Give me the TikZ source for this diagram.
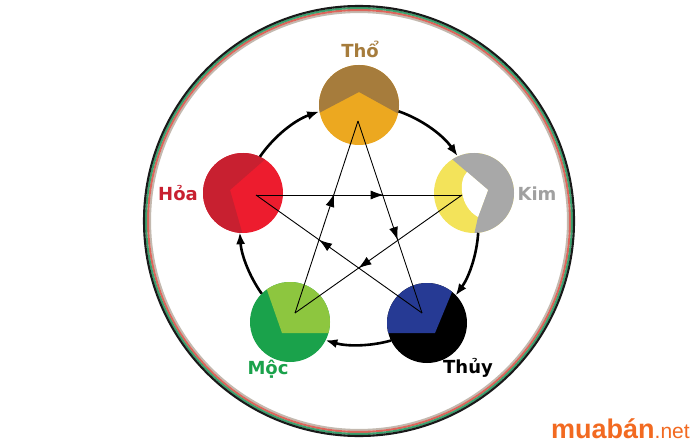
\documentclass[tikz,border=0pt]{standalone}
\usepackage{fontspec}
\setmainfont{DejaVu Sans}
\newfontfamily\wmfont{Liberation Sans}
\usetikzlibrary{arrows.meta,decorations.markings,calc}
\definecolor{thoA}{RGB}{166,124,60}
\definecolor{thoB}{RGB}{236,168,32}
\definecolor{hoaA}{RGB}{200,32,48}
\definecolor{hoaB}{RGB}{237,28,46}
\definecolor{kimY}{RGB}{243,227,90}
\definecolor{kimG}{RGB}{168,168,168}
\definecolor{kimT}{RGB}{160,160,160}
\definecolor{mocL}{RGB}{141,198,63}
\definecolor{mocD}{RGB}{26,162,75}
\definecolor{thuyB}{RGB}{38,58,148}
\definecolor{ringK}{RGB}{25,25,25}
\definecolor{ringG}{RGB}{60,160,110}
\definecolor{ringR}{RGB}{222,100,90}
\definecolor{ringT}{RGB}{195,185,175}
\definecolor{wm}{RGB}{242,106,33}
\begin{document}
\begin{tikzpicture}[x=1pt,y=1pt,
  disc/.style={circle, minimum size=80pt, inner sep=0pt, outer sep=0pt},
  cyc/.style={line width=2.6pt, -{Latex[length=12pt,width=9pt]}},
  star/.style={line width=0.9pt, postaction={decorate},
    decoration={markings, mark=at position 0.62 with {\arrow{Latex[length=13pt,width=9pt]}}}},
  lbl/.style={font=\fontsize{18}{18}\selectfont\bfseries, anchor=base, inner sep=0pt},
  ring/.style={line width=2.1pt}
]
\fill[white] (0,0) rectangle (700,445);
\useasboundingbox (0,0) rectangle (700,445);

% outer rings
\coordinate (rc) at (359,224);
\draw[ring, ringT] (rc) circle (209);
\draw[ring, ringR] (rc) circle (211);
\draw[ring, ringG] (rc) circle (213);
\draw[ring, ringK] (rc) circle (215);

\coordinate (ctr) at (359,220);

% element nodes
\node[disc] (tho) at (359,340) {};
\node[disc] (kim) at (474,252) {};
\node[disc] (thuy) at (427,122) {};
\node[disc] (moc) at (290,123) {};
\node[disc] (hoa) at (243,252) {};

% disc fills
\begin{scope}[shift={(tho.center)}]
  \clip (0,0) circle (40);
  \fill[thoB] (-45,-45) rectangle (45,45);
  \fill[thoA] (-50,-13.3) -- (0,13) -- (50,-14.6) -- (50,50) -- (-50,50) -- cycle;
\end{scope}
\begin{scope}[shift={(hoa.center)}]
  \clip (0,0) circle (40);
  \fill[hoaB] (-45,-45) rectangle (45,45);
  \fill[hoaA] (5,-60) -- (-13,3) -- (51,59) -- (-60,60) -- (-60,-60) -- cycle;
\end{scope}
\begin{scope}[shift={(kim.center)}]
  \clip (0,0) circle (40);
  \fill[kimY] (-45,-45) rectangle (45,45);
  \fill[kimG] (-42,51) -- (-7,21) -- (14,3) -- (4,-24) -- (-4,-60) -- (60,-60) -- (60,60) -- (-42,60) -- cycle;
  \fill[white] (-7,21) -- (14,3) -- (4,-24) .. controls (-14,-14) and (-16,12) .. (-7,21) -- cycle;
\end{scope}
\begin{scope}[shift={(moc.center)}]
  \clip (0,0) circle (40);
  \fill[mocD] (-45,-45) rectangle (45,45);
  \fill[mocL] (-8,-11) -- (-30,52) -- (60,60) -- (60,-11) -- cycle;
\end{scope}
\begin{scope}[shift={(thuy.center)}]
  \clip (0,0) circle (40);
  \fill[black] (-45,-45) rectangle (45,45);
  \fill[thuyB] (-60,-10) -- (8,-10) -- (37,60) -- (-60,60) -- cycle;
\end{scope}

% generating cycle
\draw[cyc] (tho.-9.6) arc[start angle=70.8, end angle=34.75, radius=120];
\draw[cyc] (kim.-84.05) arc[start angle=-3.65, end angle=-36, radius=120];
\draw[cyc] (thuy.-154.8) arc[start angle=-74.4, end angle=-106.2, radius=120];
\draw[cyc] (moc.135) arc[start angle=-144.6, end angle=-176.2, radius=120];
\draw[cyc] (hoa.65) arc[start angle=145.4, end angle=109.2, radius=120];

% pentagram
\coordinate (hoaP) at ($(hoa.center)+(13,-2)$);
\coordinate (kimP) at ($(kim.center)+(-12,-2)$);
\coordinate (thoP) at ($(tho.center)+(-1,-16)$);
\coordinate (mocP) at ($(moc.center)+(5,9)$);
\coordinate (thuyP) at ($(thuy.center)+(-5,10)$);
\draw[star] (hoaP) -- (kimP);
\draw[star] (kimP) -- (mocP);
\draw[star] (mocP) -- (thoP);
\draw[star] (thoP) -- (thuyP);
\draw[star] (thuyP) -- (hoaP);

% labels
\node[lbl, text=thoA] (lTho) at (360,387) {Thổ};
\node[lbl, text=kimT] (lKim) at (537,245) {Kim};
\node[lbl, text=hoaA] (lHoa) at (178,245) {Hỏa};
\node[lbl, text=mocD] (lMoc) at (268,71) {Mộc};
\node[lbl, text=black] (lThuy) at (468,72) {Thủy};

% watermark
\node[anchor=base west, inner sep=0pt, text=wm] (wmark) at (551,7)
  {\wmfont\fontsize{27}{27}\selectfont\bfseries muabán\mdseries\fontsize{21}{21}\selectfont.net};
\end{tikzpicture}
\end{document}
